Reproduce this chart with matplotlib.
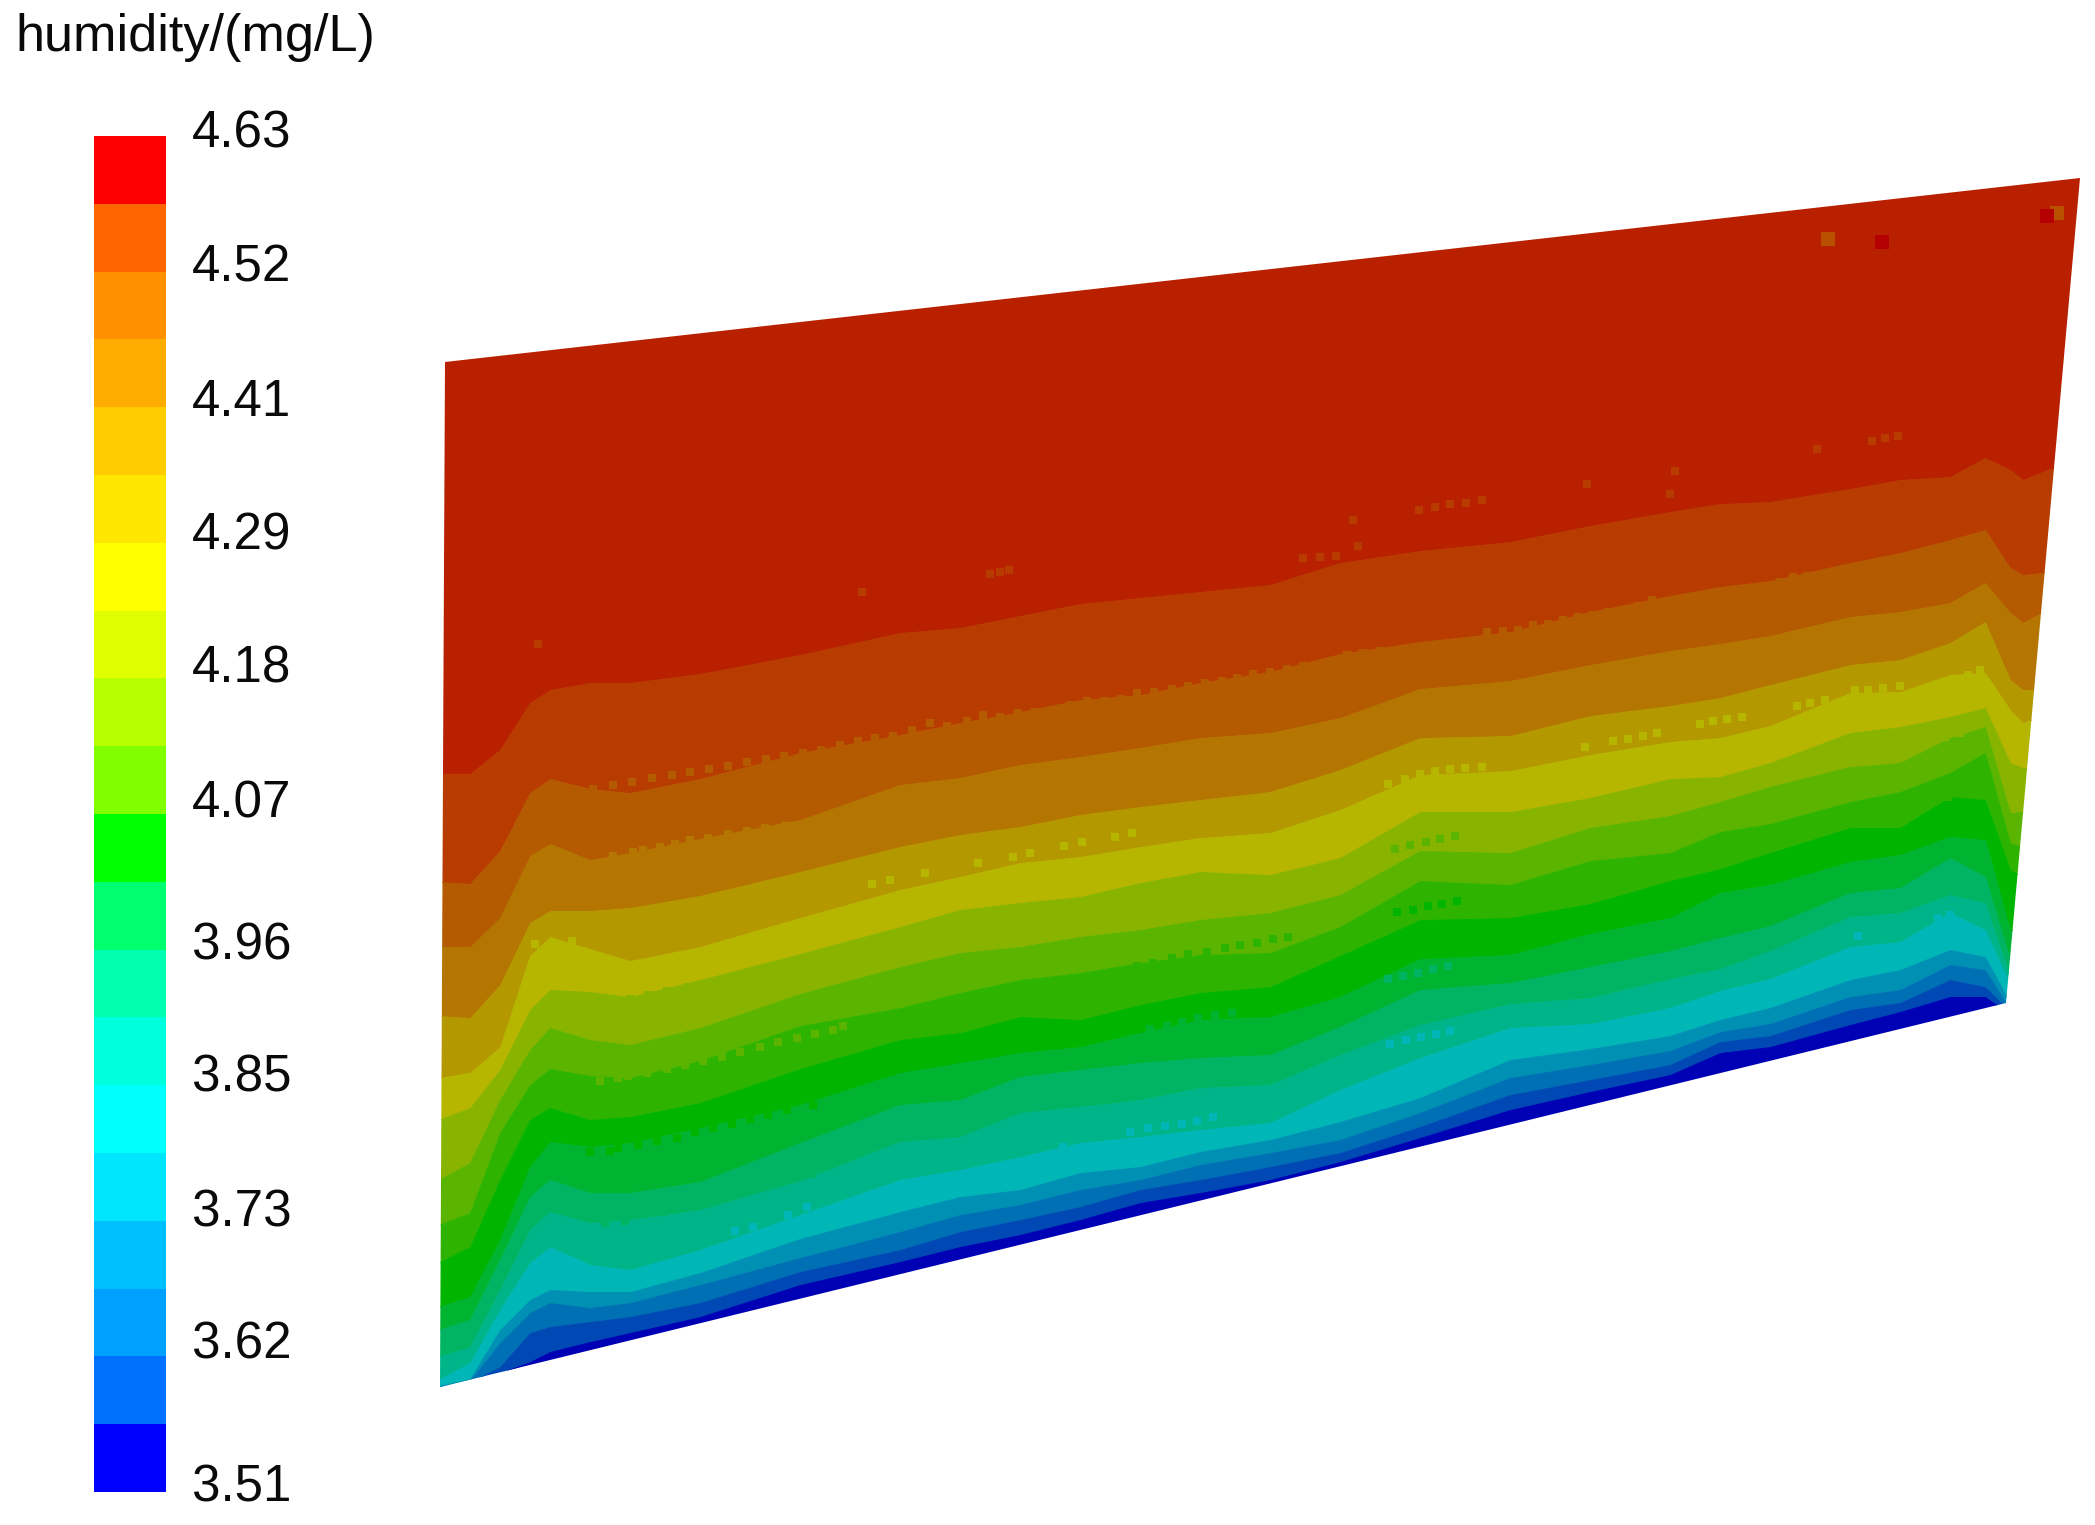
import numpy as np
import matplotlib.pyplot as plt
from matplotlib.patches import Polygon

plt.rcParams['font.family'] = ['Liberation Sans', 'DejaVu Sans']

# colour bar
bar_colors = ['#ff0000', '#ff6600', '#ff9000', '#ffac00', '#ffcc00', '#ffe600', '#ffff00',
              '#dfff00', '#b4ff00', '#80ff00', '#00ff00', '#00ff6e', '#00ffb0', '#00ffdc',
              '#00ffff', '#00e6ff', '#00c0ff', '#00a0ff', '#0070ff', '#0000ff']
tick_labels = ['4.63', '4.52', '4.41', '4.29', '4.18', '4.07', '3.96', '3.85', '3.73', '3.62', '3.51']
tick_y = [134, 268, 402, 536, 669, 804, 946, 1078, 1213, 1345, 1488]

# outline of the slice
outline_x = [445, 2080, 2006, 440]
outline_y = [362, 178, 1003, 1387]

# band colours top to bottom
band_colors = ['#b82000', '#b83c00', '#b45a00', '#b47600', '#b49800', '#b6b600', '#88b400',
               '#5ab400', '#2eb400', '#00b400', '#00b432', '#00b464', '#00b48a', '#00b6b6',
               '#0090b4', '#0070b4', '#0048b4', '#0000b4']

# columns where the band limits were read
col_x = [438, 470, 500, 530, 550, 590, 630, 700, 800, 900, 960, 1020, 1080, 1140, 1200,
         1270, 1340, 1420, 1510, 1590, 1670, 1720, 1770, 1850, 1900, 1950, 1985, 2010, 2023, 2050, 2090]

# lower limit of the 17 upper bands, one list per column
c438 = [774, 882, 947, 1016, 1078, 1120, 1180, 1225, 1263, 1307, 1330, 1357, 1380, 1386, 1387, 1388, 1389]
c470 = [774, 884, 947, 1018, 1073, 1108, 1163, 1213, 1247, 1297, 1320, 1347, 1363, 1379, 1381, 1382, 1383]
c500 = [750, 851, 918, 985, 1047, 1070, 1100, 1133, 1180, 1240, 1260, 1290, 1310, 1330, 1343, 1367, 1373]
c530 = [703, 793, 856, 923, 956, 1010, 1050, 1085, 1120, 1167, 1197, 1230, 1263, 1300, 1313, 1333, 1362]
c550 = [690, 779, 844, 911, 937, 990, 1028, 1069, 1108, 1142, 1180, 1212, 1247, 1290, 1303, 1327, 1352]
c590 = [683, 789, 860, 911, 949, 992, 1040, 1076, 1120, 1147, 1193, 1223, 1265, 1292, 1308, 1322, 1342]
c630 = [683, 793, 853, 908, 961, 997, 1045, 1078, 1117, 1143, 1193, 1220, 1270, 1292, 1303, 1317, 1333]
c700 = [674, 779, 839, 896, 947, 980, 1028, 1061, 1103, 1128, 1182, 1210, 1250, 1273, 1285, 1303, 1317]
c800 = [655, 753, 820, 872, 918, 954, 994, 1026, 1069, 1105, 1143, 1181, 1215, 1239, 1258, 1272, 1285]
c900 = [633, 735, 785, 847, 890, 927, 967, 1008, 1040, 1073, 1105, 1142, 1180, 1212, 1232, 1250, 1262]
c960 = [628, 723, 778, 835, 877, 910, 953, 993, 1033, 1063, 1100, 1137, 1170, 1197, 1215, 1232, 1247]
c1020 = [616, 712, 765, 827, 863, 903, 947, 980, 1017, 1053, 1077, 1113, 1157, 1190, 1205, 1220, 1235]
c1080 = [604, 700, 757, 815, 857, 897, 937, 973, 1020, 1047, 1070, 1107, 1143, 1173, 1190, 1207, 1220]
c1140 = [598, 695, 748, 807, 847, 883, 930, 963, 1005, 1033, 1063, 1100, 1137, 1167, 1180, 1190, 1203]
c1200 = [592, 683, 738, 800, 838, 872, 920, 955, 993, 1020, 1058, 1088, 1130, 1152, 1165, 1180, 1193]
c1270 = [585, 672, 733, 792, 833, 875, 913, 953, 987, 1017, 1055, 1085, 1123, 1140, 1153, 1167, 1180]
c1340 = [563, 654, 718, 770, 810, 858, 895, 927, 956, 997, 1027, 1055, 1090, 1122, 1140, 1153, 1162]
c1420 = [551, 642, 689, 738, 775, 812, 851, 881, 920, 959, 990, 1025, 1058, 1098, 1113, 1127, 1138]
c1510 = [542, 632, 681, 736, 771, 812, 853, 885, 918, 955, 983, 1004, 1028, 1060, 1078, 1095, 1110]
c1590 = [526, 612, 665, 716, 755, 798, 828, 861, 904, 934, 967, 998, 1024, 1049, 1065, 1080, 1092]
c1670 = [512, 596, 651, 706, 742, 779, 816, 853, 881, 918, 951, 979, 1008, 1036, 1051, 1065, 1075]
c1720 = [504, 587, 644, 698, 738, 777, 802, 832, 869, 893, 938, 969, 991, 1020, 1032, 1042, 1053]
c1770 = [502, 581, 636, 685, 726, 763, 787, 824, 853, 885, 926, 951, 979, 1008, 1024, 1036, 1047]
c1850 = [489, 563, 617, 665, 693, 733, 767, 802, 828, 862, 893, 917, 947, 980, 997, 1010, 1025]
c1900 = [480, 553, 612, 660, 692, 727, 763, 792, 828, 855, 888, 913, 942, 970, 990, 1003, 1012]
c1950 = [477, 540, 603, 643, 675, 717, 738, 773, 797, 837, 858, 895, 913, 950, 965, 980, 997]
c1985 = [458, 530, 583, 622, 673, 708, 727, 753, 800, 840, 877, 903, 930, 957, 970, 987, 997]
c2010 = [470, 568, 613, 680, 710, 763, 813, 843, 870, 930, 960, 978, 985, 1003, 1010, 1012, 1014]
c2023 = [480, 575, 623, 690, 723, 768, 812, 847, 877, 930, 960, 980, 990, 1003, 1010, 1015, 1020]
c2050 = [469, 572, 608, 690, 713, 768, 812, 847, 877, 930, 960, 990, 1010, 1020, 1030, 1040, 1050]
c2090 = [465, 545, 590, 690, 713, 768, 812, 847, 877, 930, 960, 990, 1010, 1020, 1030, 1040, 1050]
band_limits = np.array([c438, c470, c500, c530, c550, c590, c630, c700, c800, c900, c960, c1020, c1080, c1140, c1200,
                        c1270, c1340, c1420, c1510, c1590, c1670, c1720, c1770, c1850, c1900, c1950, c1985, c2010,
                        c2023, c2050, c2090]).T

# speckles along the band limits, grouped by the band colour they take
spots_1_x = [862, 538, 990, 1000, 1009, 1303, 1320, 1336, 1353, 1358, 1419, 1435, 1450, 1466, 1482, 1587, 1675, 1670, 1817, 1872, 1885, 1898]
spots_1_y = [592, 644, 574, 572, 570, 558, 557, 556, 520, 546, 510, 507, 504, 503, 500, 484, 471, 494, 449, 441, 438, 436]
spots_2_x = [573, 593, 613, 632, 652, 672, 690, 709, 728, 747, 766, 784, 803, 821, 840, 858, 875, 893, 912, 930, 947, 967, 983,
             1000, 1018, 1035, 1053, 1070, 1087, 1104, 1121, 1137, 1154, 1172, 1188, 1205, 1222, 1237, 1253, 1270, 1287, 1303,
             1347, 1363, 1380, 1487, 1503, 1518, 1533, 1548, 1563, 1578, 1593, 1608, 1623, 1638, 1652, 1665, 1680, 1695, 1708,
             1723, 1737, 1752, 1765, 1780, 1793, 1807, 1820, 1835, 1910, 1928, 1942, 1957]
spots_2_y = [789, 789, 785, 782, 778, 775, 772, 769, 766, 762, 759, 756, 753, 750, 745, 741, 738, 736, 730, 723, 726, 721, 715,
             717, 713, 712, 710, 705, 701, 701, 699, 693, 692, 689, 686, 683, 681, 678, 674, 672, 669, 666,
             655, 653, 651, 632, 631, 630, 625, 624, 620, 617, 615, 612, 611, 606, 600, 602, 600, 598, 596,
             591, 589, 588, 586, 582, 577, 576, 576, 574, 557, 556, 555, 552]
spots_3_x = [613, 633, 643, 660, 675, 690, 708, 728, 747, 765, 785]
spots_3_y = [856, 852, 850, 847, 844, 840, 838, 834, 831, 828, 826]
spots_5_x = [535, 552, 572, 872, 890, 925, 978, 1013, 1030, 1064, 1082, 1115, 1132, 1388, 1405, 1420, 1435, 1450, 1465, 1482,
             1585, 1613, 1628, 1643, 1657, 1700, 1713, 1727, 1742, 1797, 1810, 1825, 1855, 1868, 1883, 1900, 1955, 1968, 1980]
spots_5_y = [944, 943, 941, 884, 880, 873, 863, 857, 853, 846, 842, 837, 833, 784, 779, 774, 771, 769, 768, 767,
             747, 741, 739, 736, 733, 724, 721, 719, 717, 706, 703, 700, 690, 690, 688, 686, 680, 675, 670]
spots_6_x = [612, 630, 648, 667, 687, 706, 725, 743, 762, 915, 933, 952, 970, 987, 1005, 1022, 1055, 1855, 1868, 1882, 1895, 1945, 1960]
spots_6_y = [1003, 999, 995, 991, 987, 985, 980, 977, 973, 945, 937, 932, 925, 922, 920, 918, 906, 755, 752, 750, 747, 737, 733]
spots_7_x = [600, 618, 628, 647, 667, 685, 703, 722, 740, 760, 778, 797, 815, 833, 843, 1395, 1410, 1426, 1440, 1455]
spots_7_y = [1081, 1078, 1076, 1073, 1069, 1065, 1061, 1057, 1052, 1047, 1042, 1038, 1034, 1030, 1026, 849, 845, 842, 839, 836]
spots_8_x = [1137, 1153, 1172, 1188, 1207, 1225, 1240, 1257, 1273, 1288, 1855, 1868, 1882, 1948]
spots_8_y = [966, 963, 958, 954, 952, 948, 945, 943, 939, 937, 816, 813, 811, 797]
spots_9_x = [590, 610, 618, 638, 657, 677, 695, 713, 732, 750, 768, 787, 813, 1397, 1413, 1428, 1442, 1457]
spots_9_y = [1152, 1151, 1148, 1145, 1141, 1138, 1132, 1128, 1124, 1119, 1115, 1110, 1105, 912, 910, 906, 904, 901]
spots_10_x = [1150, 1167, 1182, 1198, 1215, 1232, 1925, 1938, 1950, 1962]
spots_10_y = [1029, 1026, 1022, 1018, 1015, 1013, 862, 858, 855, 853]
spots_11_x = [605, 625, 663, 682, 702, 720, 738, 757, 775, 793, 812, 1388, 1403, 1418, 1433, 1448]
spots_11_y = [1223, 1221, 1212, 1207, 1203, 1198, 1193, 1188, 1184, 1179, 1174, 979, 976, 973, 969, 966]
spots_13_x = [735, 753, 788, 807, 1063, 1130, 1148, 1165, 1182, 1197, 1213, 1390, 1406, 1421, 1436, 1450, 1858, 1938, 1950]
spots_13_y = [1231, 1227, 1215, 1207, 1147, 1132, 1128, 1126, 1124, 1121, 1117, 1044, 1040, 1037, 1034, 1031, 936, 918, 915]
spot_groups = [(1, spots_1_x, spots_1_y), (2, spots_2_x, spots_2_y), (3, spots_3_x, spots_3_y),
               (5, spots_5_x, spots_5_y), (6, spots_6_x, spots_6_y), (7, spots_7_x, spots_7_y),
               (8, spots_8_x, spots_8_y), (9, spots_9_x, spots_9_y), (10, spots_10_x, spots_10_y),
               (11, spots_11_x, spots_11_y), (13, spots_13_x, spots_13_y)]

# few larger blotches high up in the red band
blotch_x = [1828, 2057, 1882, 2047]
blotch_y = [239, 213, 242, 216]
blotch_colors = ['#b85000', '#b85000', '#b40000', '#b40000']

fig = plt.figure(figsize=(20.95, 15.25), dpi=100)
ax = fig.add_axes([0, 0, 1, 1])
ax.set_xlim(0, 2095)
ax.set_ylim(1525, 0)
ax.axis('off')

# slice
clip = Polygon(np.column_stack([outline_x, outline_y]), closed=True, transform=ax.transData, fc='none', ec='none')
ax.add_patch(clip)
top = np.full(len(col_x), min(outline_y) - 10)
bottom = np.full(len(col_x), max(outline_y) + 10)
edges = np.vstack([top, band_limits, bottom])
for i, c in enumerate(band_colors):
    poly = ax.fill_between(col_x, edges[i], edges[i + 1], color=c, lw=0.6)
    poly.set_clip_path(clip)

for band, xs, ys in spot_groups:
    pts = ax.scatter(xs, ys, s=32, marker='s', color=band_colors[band], lw=0)
    pts.set_clip_path(clip)
ax.scatter(blotch_x, blotch_y, s=90, marker='s', color=blotch_colors, lw=0)

# colour bar
seg = (1492 - 136) / len(bar_colors)
for i, c in enumerate(bar_colors):
    ax.bar(130, seg, width=72, bottom=136 + i * seg, color=c, lw=0)
for lab, y in zip(tick_labels, tick_y):
    ax.text(192, y, lab, fontsize=36.8, va='center', ha='left', color='#0a0a0a')
ax.text(15, 38, 'humidity/(mg/L)', fontsize=37.6, va='center', ha='left', color='#0a0a0a')

fig.savefig('out.png', dpi=100)
